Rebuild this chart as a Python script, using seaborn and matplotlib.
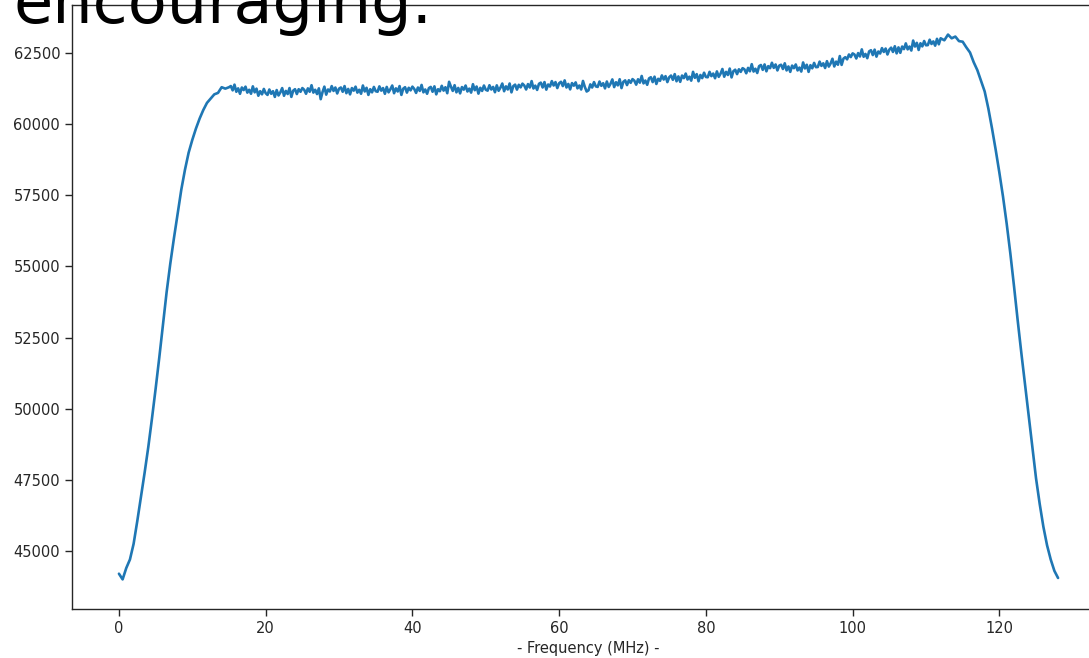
import numpy as np
import pandas as pd
import matplotlib
matplotlib.use("Agg")
import matplotlib.pyplot as plt
import seaborn as sns

# Passband edges sampled every 0.5 MHz, flat top every 0.25 MHz
rise_freq = np.arange(0, 15.5, 0.5)
plateau_freq = np.arange(15.25, 111.8, 0.25)
fall_freq = np.arange(112, 128.5, 0.5)

rise = [
    44200, 44000, 44400, 44700, 45250, 46050, 46900, 47750, 48650, 49650,
    50700, 51800, 52950, 54100, 55100, 56000, 56850, 57700, 58400, 59000,
    59450, 59850, 60200, 60500, 60750, 60900, 61050, 61100, 61300, 61250,
    61300,
]

plateau = [
    61340, 61190, 61390, 61140, 61260, 61070, 61290, 61200, 61320, 61110,
    61210, 61070, 61330, 61120, 61250, 61000, 61160, 61050, 61240, 61090,
    61030, 61220, 61070, 61160, 60960, 61200, 61010, 61120, 61270, 61000,
    61170, 61060, 61270, 60960, 61180, 61230, 61060, 61230, 61140, 61270,
    61210, 61070, 61260, 61140, 61370, 61110, 61210, 61060, 61260, 60880,
    61130, 61320, 61040, 61220, 61150, 61340, 61170, 61290, 61080, 61250,
    61290, 61140, 61340, 61090, 61240, 61050, 61270, 61180, 61320, 61110,
    61210, 61070, 61360, 61150, 61280, 61030, 61230, 61120, 61310, 61160,
    61140, 61330, 61180, 61270, 61070, 61310, 61120, 61230, 61360, 61090,
    61260, 61150, 61340, 61030, 61250, 61300, 61110, 61280, 61190, 61320,
    61240, 61100, 61290, 61170, 61380, 61120, 61220, 61070, 61270, 61310,
    61140, 61330, 61050, 61230, 61160, 61350, 61180, 61300, 61090, 61490,
    61320, 61170, 61370, 61120, 61275, 61085, 61305, 61215, 61360, 61150,
    61250, 61110, 61405, 61195, 61325, 61075, 61280, 61170, 61360, 61210,
    61180, 61370, 61220, 61310, 61125, 61365, 61175, 61285, 61430, 61160,
    61330, 61220, 61430, 61120, 61340, 61390, 61215, 61385, 61295, 61425,
    61360, 61220, 61410, 61290, 61515, 61255, 61355, 61205, 61420, 61460,
    61290, 61480, 61215, 61395, 61325, 61515, 61360, 61480, 61270, 61440,
    61490, 61340, 61540, 61290, 61415, 61225, 61445, 61355, 61470, 61260,
    61360, 61220, 61520, 61310, 61150, 61190, 61400, 61290, 61480, 61330,
    61310, 61500, 61350, 61440, 61260, 61500, 61310, 61420, 61575, 61305,
    61475, 61365, 61580, 61270, 61490, 61540, 61375, 61545, 61455, 61585,
    61530, 61390, 61580, 61460, 61695, 61435, 61535, 61385, 61610, 61650,
    61480, 61670, 61415, 61595, 61525, 61715, 61570, 61690, 61480, 61650,
    61710, 61560, 61760, 61510, 61680, 61490, 61710, 61620, 61780, 61570,
    61670, 61530, 61840, 61630, 61760, 61510, 61730, 61620, 61810, 61660,
    61650, 61840, 61690, 61780, 61615, 61855, 61665, 61775, 61940, 61670,
    61840, 61730, 61955, 61645, 61865, 61915, 61760, 61930, 61840, 61970,
    61930, 61790, 61980, 61860, 62110, 61850, 61950, 61800, 62040, 62080,
    61910, 62100, 61860, 62040, 61970, 62160, 61980, 62100, 61890, 62060,
    62090, 61940, 62140, 61890, 62030, 61840, 62060, 61970, 62100, 61890,
    61990, 61850, 62170, 61960, 62090, 61840, 62075, 61965, 62155, 62005,
    62010, 62200, 62050, 62140, 61975, 62215, 62025, 62135, 62300, 62030,
    62200, 62090, 62395, 62085, 62305, 62355, 62280, 62450, 62360, 62490,
    62450, 62310, 62500, 62380, 62630, 62370, 62470, 62320, 62560, 62600,
    62430, 62620, 62375, 62555, 62485, 62675, 62540, 62660, 62450, 62620,
    62690, 62540, 62740, 62490, 62700, 62510, 62730, 62640, 62840, 62630,
    62730, 62590, 62940, 62730, 62860, 62610, 62845, 62735, 62925, 62775,
    62780, 62970, 62820, 62910, 62760, 63000, 62810,
]

fall = [
    63020, 62950, 63150, 63020, 63080, 62920, 62900, 62700, 62520, 62180,
    61900, 61520, 61150, 60550, 59850, 59100, 58300, 57450, 56500, 55450,
    54300, 53100, 51950, 50850, 49750, 48650, 47550, 46650, 45850, 45200,
    44700, 44300, 44050,
]

freq_mhz = np.concatenate([rise_freq, plateau_freq, fall_freq])
power = rise + plateau + fall
assert len(power) == len(freq_mhz)

df = pd.DataFrame({"freq": freq_mhz, "power": power})

sns.set_style("ticks")
plt.rcParams["font.family"] = ["DejaVu Sans"]

fig = plt.figure(figsize=(10.89, 6.58), dpi=100)
ax = fig.add_axes([0.0661, 0.0745, 0.9486, 0.9179])

sns.lineplot(data=df, x="freq", y="power", ax=ax, color="#1f77b4",
             linewidth=1.9, estimator=None)

ax.set_ylim(42960, 64190)
ax.set_xticks([0, 20, 40, 60, 80, 100, 120])
ax.set_yticks([45000, 47500, 50000, 52500, 55000, 57500, 60000, 62500])
ax.tick_params(axis="both", labelsize=10.5, length=5, width=1,
               colors="#262626", direction="out")
ax.set_xlabel("- Frequency (MHz) -", fontsize=10.5, color="#262626")
ax.set_ylabel("")
for side in ["left", "bottom", "top", "right"]:
    ax.spines[side].set_visible(True)
    ax.spines[side].set_color("#262626")
    ax.spines[side].set_linewidth(1.0)

fig.text(0.0124, 1 - 23 / 658, "encouraging.", fontsize=46,
         va="baseline", ha="left", color="black")

fig.savefig("out.png", dpi=100)
